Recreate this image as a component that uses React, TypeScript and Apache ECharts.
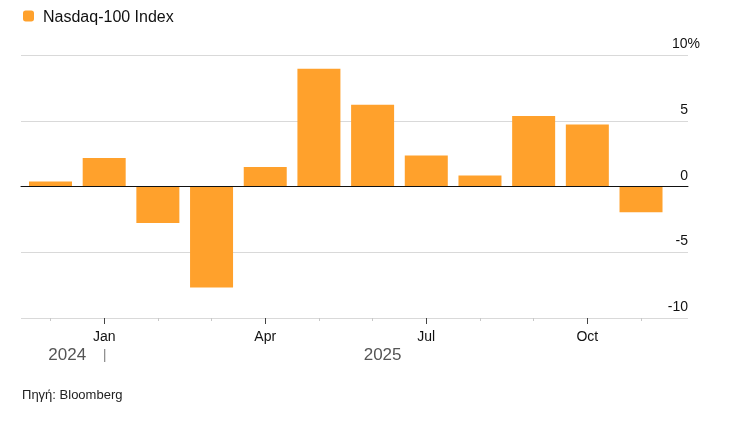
import React, { useEffect, useRef } from "react";
import * as echarts from "echarts";

const categories = ["Dec", "Jan", "Feb", "Mar", "Apr", "May", "Jun", "Jul", "Aug", "Sep", "Oct", "Nov"];
const values = [0.38, 2.17, -2.78, -7.68, 1.49, 8.96, 6.21, 2.35, 0.83, 5.36, 4.72, -1.95];
const monthLabels = ["Jan", "Apr", "Jul", "Oct"];
const yearLabels = ["2024", "2025"];
const seriesName = "Nasdaq-100 Index";
const sourceText = "Πηγή: Bloomberg";
const yMin = -10;
const yMax = 10;
const yStep = 5;

const FONT = "'Liberation Sans', Arial, Helvetica, sans-serif";
const ORANGE = "#ffa12c";

export default function App() {
  const ref = useRef<HTMLDivElement>(null);
  useEffect(() => {
    if (!ref.current) return;
    const chart = echarts.init(ref.current, undefined, { renderer: "svg" });
    const isMonth = (_i: number, v: string) => monthLabels.includes(v);
    const option: any = {
      animation: false,
      textStyle: { fontFamily: FONT },
      title: {
        text: sourceText,
        left: 17,
        top: 383,
        textStyle: { fontSize: 13, fontWeight: "normal", color: "#222", fontFamily: FONT },
      },
      legend: {
        data: [seriesName],
        left: 18,
        top: 3,
        icon: "roundRect",
        itemWidth: 11,
        itemHeight: 11,
        textStyle: { fontSize: 16, color: "#111", fontFamily: FONT, padding: [0, 0, 0, 4] },
      },
      grid: [
        { left: 21, top: 55, width: 667, height: 263 },
        { left: 23.66, top: 55, width: 644.2, height: 263 },
      ],
      xAxis: [
        {
          gridIndex: 0,
          type: "value",
          min: 0,
          max: 1,
          z: 5,
          axisLine: { onZero: true, lineStyle: { color: "#111", width: 1 } },
          axisTick: { show: false },
          axisLabel: { show: false },
          splitLine: { show: false },
        },
        {
          gridIndex: 1,
          type: "category",
          data: categories,
          position: "bottom",
          axisLine: { show: false, onZero: false },
          axisTick: { show: true, alignWithLabel: true, length: 3, lineStyle: { color: "#c8c8c8" } },
          axisLabel: { show: false },
          splitLine: { show: false },
        },
        {
          gridIndex: 1,
          type: "category",
          data: categories,
          position: "bottom",
          axisLine: { show: false, onZero: false },
          axisTick: { show: true, alignWithLabel: true, length: 6, interval: isMonth, lineStyle: { color: "#444" } },
          axisLabel: {
            interval: isMonth,
            margin: 11,
            fontSize: 14,
            color: "#111",
            fontFamily: FONT,
          },
          splitLine: { show: false },
        },
      ],
      yAxis: [
        {
          gridIndex: 0,
          type: "value",
          min: yMin,
          max: yMax,
          interval: yStep,
          position: "right",
          axisLine: { show: false },
          axisTick: { show: false },
          splitLine: { lineStyle: { color: "#d9d9d9", width: 1 } },
          axisLabel: {
            margin: 12,
            align: "right",
            verticalAlign: "bottom",
            padding: [0, 0, 5, 0],
            fontSize: 14,
            color: "#111",
            fontFamily: FONT,
            formatter: (v: number) => (v === yMax ? `${v}{p|%}` : `${v}{h|}`),
            rich: {
              p: { fontSize: 14, color: "#111", fontFamily: FONT },
              h: { width: 12 },
            },
          },
        },
        { gridIndex: 1, type: "value", min: yMin, max: yMax, interval: yStep, show: false },
      ],
      series: [
        {
          name: seriesName,
          type: "bar",
          xAxisIndex: 2,
          yAxisIndex: 1,
          data: values,
          barWidth: 43,
          itemStyle: { color: ORANGE },
        },
      ],
    };
    chart.setOption(option);

    const janX = chart.convertToPixel({ xAxisIndex: 2 }, "Jan") as number;
    const novX = chart.convertToPixel({ xAxisIndex: 2 }, "Nov") as number;
    const yearY = 354;
    chart.setOption({
      graphic: [
        {
          type: "text",
          x: janX - 18,
          y: yearY,
          style: { text: yearLabels[0], fontSize: 17, fill: "#555", fontFamily: FONT, align: "right", verticalAlign: "middle" },
        },
        {
          type: "line",
          shape: { x1: janX + 0.5, y1: 349, x2: janX + 0.5, y2: 362 },
          style: { stroke: "#888", lineWidth: 1.2 },
        },
        {
          type: "text",
          x: (janX + novX) / 2 + 10,
          y: yearY,
          style: { text: yearLabels[1], fontSize: 17, fill: "#555", fontFamily: FONT, align: "center", verticalAlign: "middle" },
        },
      ],
    });
    return () => chart.dispose();
  }, []);
  return <div ref={ref} style={{ position: "fixed", left: 0, top: 0, width: 744, height: 425 }} />;
}
